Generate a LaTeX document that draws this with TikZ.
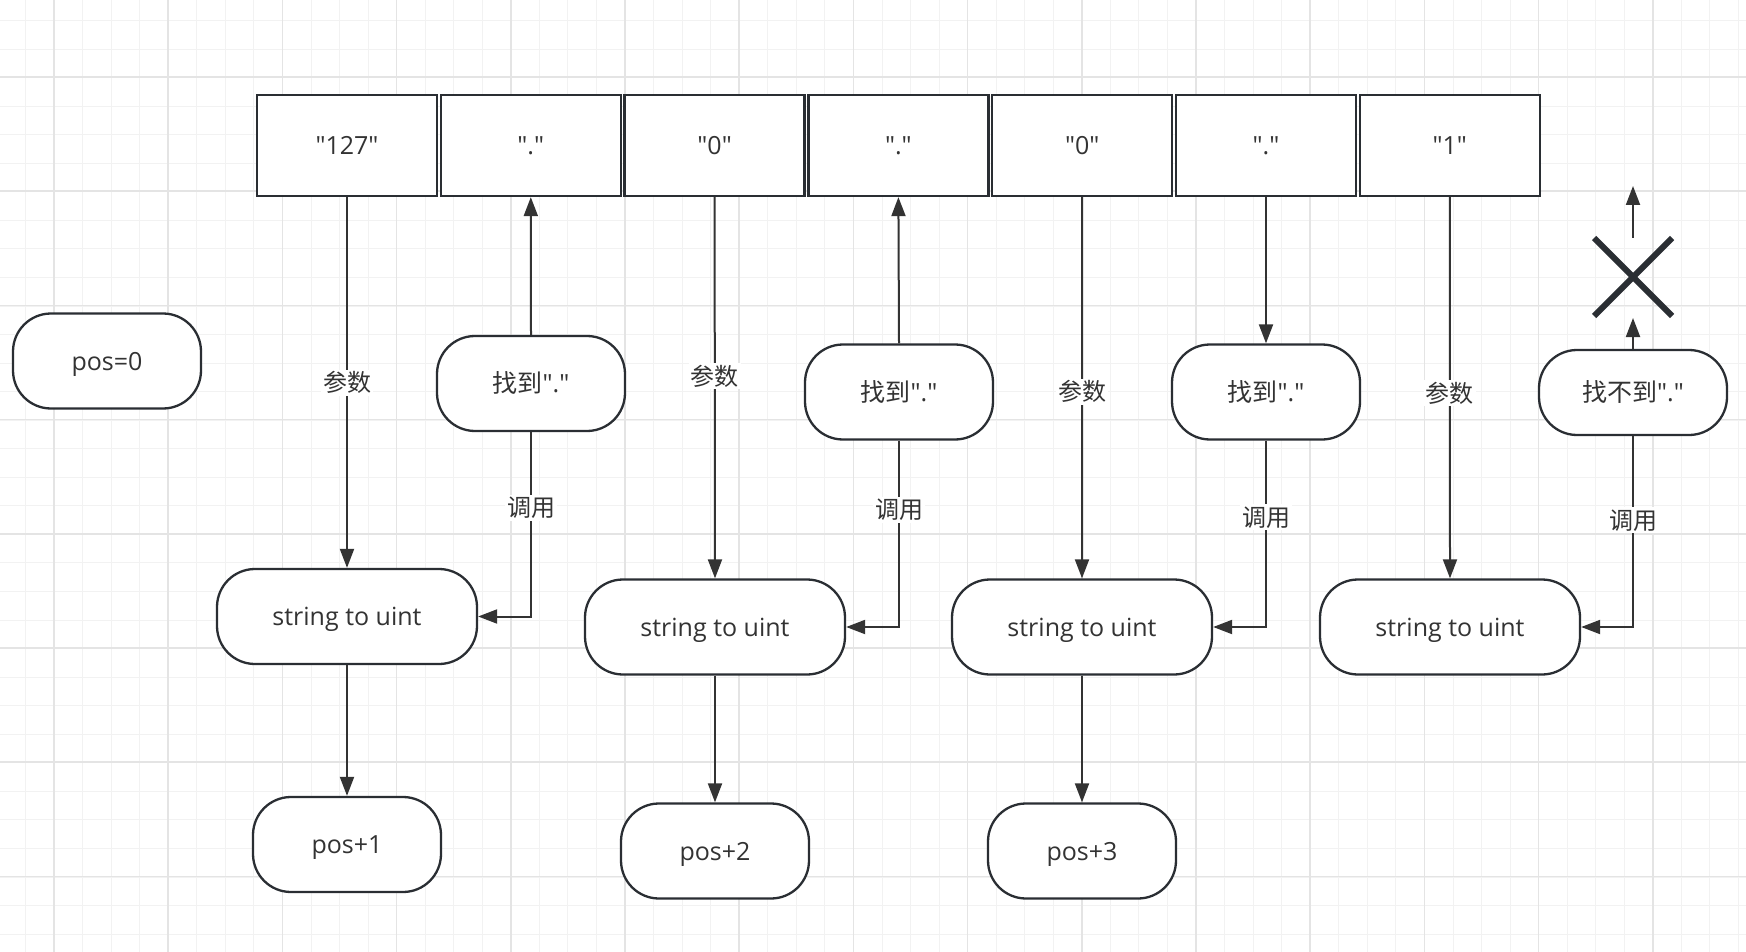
\documentclass[tikz,border=0pt]{standalone}
\usepackage{fontspec}
\newfontfamily\latinf{Open Sans}
\newfontfamily\cjk{Noto Sans CJK SC}
\usetikzlibrary{arrows.meta,calc}
\definecolor{ln}{HTML}{333333}
\definecolor{bd}{HTML}{2A2E33}
\definecolor{gminor}{HTML}{F2F2F2}
\definecolor{gmajor}{HTML}{E4E4E4}
\newcommand\qdot{\latinf"."}
\begin{document}
\begin{tikzpicture}[x=1pt,y=-1pt,
  txt/.style={text=ln,font=\latinf\fontsize{25}{30}\selectfont,text height=20pt,text depth=2pt},
  cell/.style={txt,draw=bd,line width=2.3pt,fill=white,minimum width=180pt,minimum height=101pt,inner sep=0pt},
  term/.style={txt,draw=bd,line width=2.3pt,fill=white,rounded corners=38pt,minimum width=188pt,minimum height=95pt,inner sep=0pt},
  func/.style={term,minimum width=260pt},
  conn/.style={draw=ln,line width=2pt,-{Triangle[length=19pt,width=14pt]}},
  lbl/.style={txt,font=\cjk\fontsize{24}{28}\selectfont,fill=white,inner sep=2pt}]
\useasboundingbox (0,0) rectangle (1746,952);
\fill[white] (0,0) rectangle (1746,952);
% grid
\foreach \i in {0,...,61} {\draw[gminor,line width=1pt] ({25.5+28.55*\i},0) -- ++(0,952);}
\foreach \i in {0,...,33} {\draw[gminor,line width=1pt] (0,{20.5+28.55*\i}) -- ++(1746,0);}
\foreach \i in {0,...,15} {\draw[gmajor,line width=1.5pt] ({54+114.2*\i},0) -- ++(0,952);}
\foreach \i in {0,...,8} {\draw[gmajor,line width=1.5pt] (0,{77+114.2*\i}) -- ++(1746,0);}
% top cells
\node[cell] (c0) at (347,145.5) {"127"};
\node[cell] (c1) at (530.8,145.5) {"."};
\node[cell] (c2) at (714.6,145.5) {"0"};
\node[cell] (c3) at (898.4,145.5) {"."};
\node[cell] (c4) at (1082.2,145.5) {"0"};
\node[cell] (c5) at (1266,145.5) {"."};
\node[cell] (c6) at (1449.8,145.5) {"1"};
% left
\node[term] (p0) at (107,361) {pos=0};
% functions
\node[func] (s1) at (347,616.5) {string to uint};
\node[func] (s2) at (715,627) {string to uint};
\node[func] (s3) at (1082,627) {string to uint};
\node[func] (s4) at (1450,627) {string to uint};
% results
\node[term] (r1) at (347,844.5) {pos+1};
\node[term] (r2) at (715,851) {pos+2};
\node[term] (r3) at (1082,851) {pos+3};
% find nodes
\node[term] (f1) at (531,383.5) {{\cjk 找到}\qdot};
\node[term] (f2) at (899,392) {{\cjk 找到}\qdot};
\node[term] (f3) at (1266,392) {{\cjk 找到}\qdot};
\node[term,minimum height=85pt] (f4) at (1633,392.5) {{\cjk 找不到}\qdot};
% cross
\coordinate (xc) at (1633,277);
\coordinate (xb) at (1633,318);
\coordinate (xt) at (1633,238);
\coordinate (xu) at (1633,186);
\draw[bd,line width=6pt] ($(xc)+(-39,-39)$) -- ($(xc)+(39,39)$);
\draw[bd,line width=6pt] ($(xc)+(39,-39)$) -- ($(xc)+(-39,39)$);
% connectors
\draw[conn] (c0.south) -- node[lbl,pos=0.5] {参数} (s1.north);
\draw[conn] (c2.south) -- node[lbl,pos=0.47] {参数} (s2.north);
\draw[conn] (c4.south) -- node[lbl,pos=0.51] {参数} (s3.north);
\draw[conn] (c6.south) -- node[lbl,pos=0.515] {参数} (s4.north);
\draw[conn] (s1.south) -- (r1.north);
\draw[conn] (s2.south) -- (r2.north);
\draw[conn] (s3.south) -- (r3.north);
\draw[conn] (f1.north) -- (c1.south);
\draw[conn] (f2.north) -- (c3.south);
\draw[conn] (c5.south) -- (f3.north);
\draw[conn] (f4.north) -- (xb);
\draw[conn] (xt) -- (xu);
\draw[conn] (f1.south) |- node[lbl,pos=0.205] {调用} (s1.east);
\draw[conn] (f2.south) |- node[lbl,pos=0.186] {调用} (s2.east);
\draw[conn] (f3.south) |- node[lbl,pos=0.205] {调用} (s3.east);
\draw[conn] (f4.south) |- node[lbl,pos=0.22] {调用} (s4.east);
\end{tikzpicture}
\end{document}
